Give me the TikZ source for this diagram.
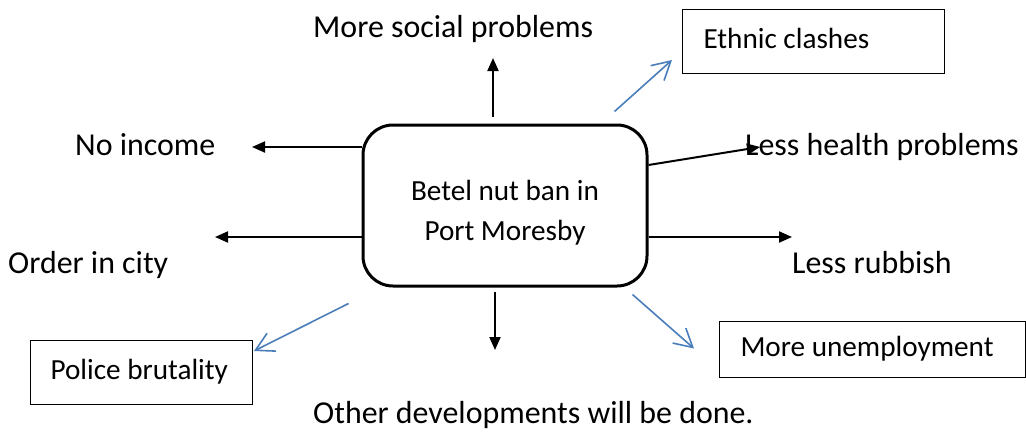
\documentclass[tikz,border=0pt]{standalone}
\usepackage{fontspec}
\setmainfont{Carlito}
\usetikzlibrary{arrows.meta}
\definecolor{arrowblue}{HTML}{4A7EBB}
\tikzset{
    bigtext/.style={font=\fontsize{31.9}{38}\selectfont, inner sep=0pt, anchor=base west},
    boxtext/.style={font=\fontsize{29.2}{40}\selectfont},
    outcome/.style={boxtext, draw, line width=1pt, text height=20pt, text depth=6pt,
        inner xsep=20pt, minimum height=64pt, anchor=north west,
        execute at begin node={\spaceskip=0pt\xspaceskip=0pt}}, % plain word spaces
    blk/.style={line width=2pt, -{Triangle[length=13pt,width=11pt]}},
    blu/.style={arrowblue, line width=1.6pt, -{Straight Barb[length=18pt,width=20pt]}}
}

\begin{document}
\begin{tikzpicture}[x=1pt, y=-1pt]
    \useasboundingbox (0,0) rectangle (1026,434);

    \node[boxtext, draw, line width=3pt, rounded corners=30pt, minimum width=284pt,
        minimum height=161pt, align=center] (ban) at (505,205.5)
        {\rule{0pt}{34pt}Betel nut ban in\\Port Moresby};

    \node[bigtext] (social) at (313,37) {More social problems};
    \node[bigtext] (noinc) at (75,155) {No income};
    \node[bigtext] (order) at (8,273) {Order in city};
    \node[bigtext] (health) at (745,155) {Less health problems};
    \node[bigtext] (rubbish) at (792,273) {Less rubbish};
    \node[bigtext] (other) at (313,423) {Other developments will be done.};

    \node[outcome, text width=220pt, inner xsep=21pt] (ethnic) at (682,9) {Ethnic clashes};
    \node[outcome, text width=182pt] (police) at (30,340) {Police brutality};
    \node[outcome, text width=264pt, inner xsep=21pt, minimum height=56pt] (unemp) at (719,321) {More unemployment};

    % black arrows
    \coordinate (up-tip) at (493,58);
    \coordinate (down-tip) at (495,350);
    \coordinate (noinc-tip) at (252,147);
    \coordinate (order-tip) at (215,237);
    \coordinate (health-tip) at (760,147);
    \coordinate (rubbish-tip) at (792,237);
    \draw[blk, shorten <=7pt] (ban.north -| up-tip) -- (up-tip);
    \draw[blk, shorten <=4pt] (ban.south -| down-tip) -- (down-tip);
    \draw[blk] (ban.west |- noinc-tip) -- (noinc-tip);
    \draw[blk] (ban.west |- order-tip) -- (order-tip);
    \draw[blk] ([yshift=40.5pt]ban.east) -- (health-tip);
    \draw[blk] (ban.east |- rubbish-tip) -- (rubbish-tip);

    % blue arrows
    \draw[blu] ([shift={(-34,-12)}]ban.north east) -- ([shift={(-10,-14)}]ethnic.south west);
    \draw[blu] ([shift={(-13,16)}]ban.south west) -- ([shift={(1,11)}]police.north east);
    \draw[blu] ([shift={(-16,7)}]ban.south east) -- ([shift={(-25,-1)}]unemp.west);
\end{tikzpicture}
\end{document}
